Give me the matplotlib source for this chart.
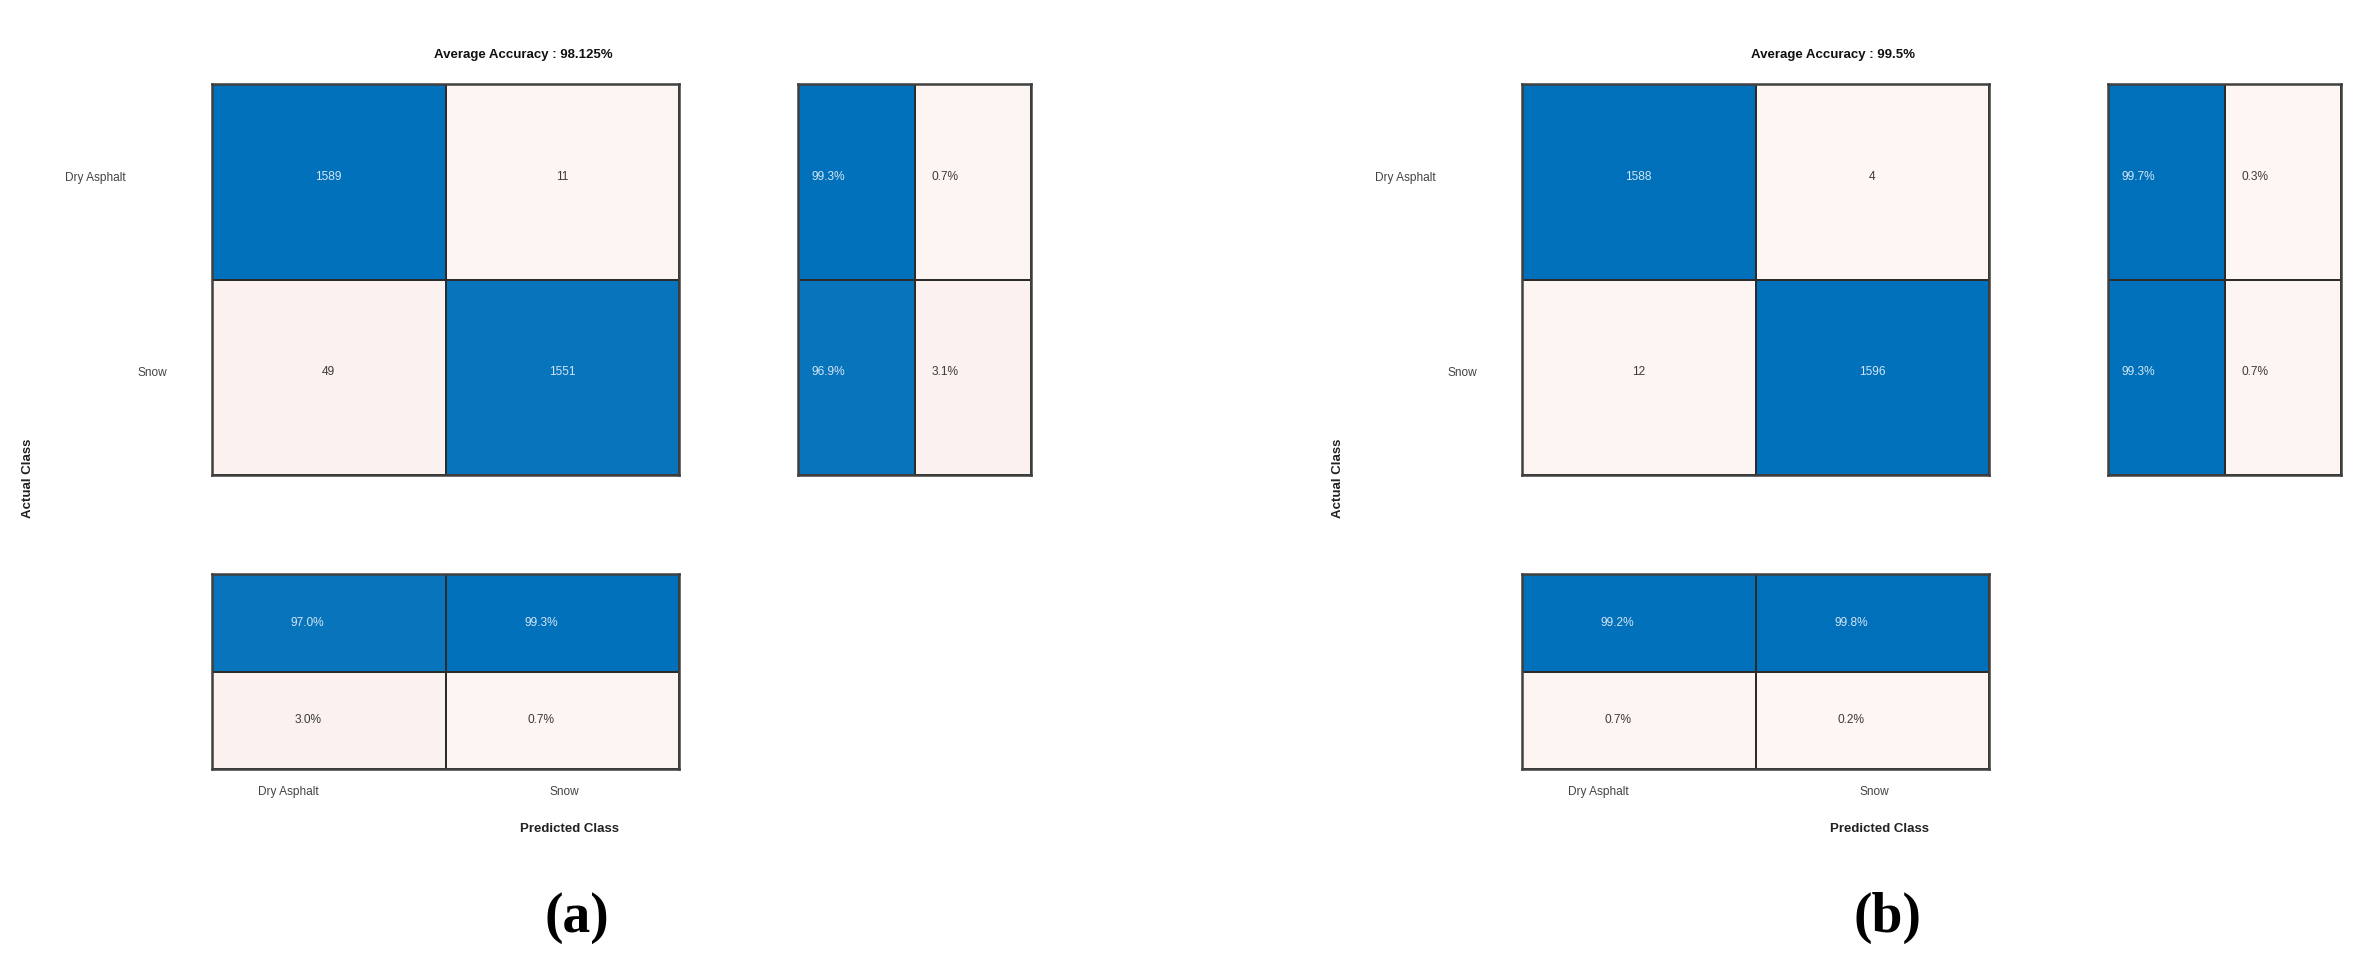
import numpy as np
import matplotlib
matplotlib.use("Agg")
import matplotlib.pyplot as plt
from matplotlib.colors import LinearSegmentedColormap


# chart data
CLASSES = ["Dry Asphalt", "Snow"]
PANELS = ["(a)", "(b)"]
TITLES = ["Average Accuracy : 98.125%", "Average Accuracy : 99.5%"]

A_COUNTS = [[1589, 11], [49, 1551]]
A_ROW_PCT = [[99.3, 0.7], [96.9, 3.1]]
A_COL_PCT = [[97.0, 99.3], [3.0, 0.7]]

B_COUNTS = [[1588, 4], [12, 1596]]
B_ROW_PCT = [[99.7, 0.3], [99.3, 0.7]]
B_COL_PCT = [[99.2, 99.8], [0.7, 0.2]]

W, H = 2378, 954
CMAP = LinearSegmentedColormap.from_list("cm", ["#fbf3ef", "#f5ede9", "#0070bb"], N=256)
CMAP = LinearSegmentedColormap.from_list("cm", [(0.0, "#fdf6f3"), (0.05, "#f9efeb"), (1.0, "#0070bb")])
LIGHT_TXT = "#d4e5f4"
DARK_TXT = "#3a3a3a"
plt.rcParams["font.family"] = ["Liberation Sans", "DejaVu Sans"]


# pixel box -> figure axes
def addBox(fig, x0, y0, x1, y1):
    return fig.add_axes([x0 / W, 1 - y1 / H, (x1 - x0) / W, (y1 - y0) / H])


def figText(fig, x, y, s, **kw):
    fig.text(x / W, 1 - y / H, s, **kw)


# draw one block of cells
def drawCells(ax, vals, colorVals, labels, dx=0.0, dy=0.0):
    vals = np.array(vals)
    colorVals = np.array(colorVals)
    ax.pcolormesh(colorVals, cmap=CMAP, vmin=0, vmax=1, edgecolors="#2b2b2b", linewidth=1.2)
    ax.set_xlim(0, vals.shape[1])
    ax.set_ylim(vals.shape[0], 0)
    for i in range(vals.shape[0]):
        for j in range(vals.shape[1]):
            c = LIGHT_TXT if colorVals[i, j] > 0.5 else DARK_TXT
            ax.text(j + 0.5 + dx, i + 0.5 + dy, labels[i][j], ha="center", va="center",
                    fontsize=8.6, color=c)
    ax.set_xticks([])
    ax.set_yticks([])
    for sp in ax.spines.values():
        sp.set_color("#404040")
        sp.set_linewidth(1.8)


def drawPanel(fig, off, counts, rowPct, colPct, title, panel):
    counts = np.array(counts, dtype=float)
    rowPct = np.array(rowPct)
    colPct = np.array(colPct)

    # main matrix
    ax = addBox(fig, 212 + off, 85, 679 + off, 476)
    frac = counts / counts.sum(axis=1, keepdims=True)
    drawCells(ax, counts, frac, [[str(int(v)) for v in r] for r in counts], dy=-0.03)

    # row summary
    ax2 = addBox(fig, 798 + off, 85, 1031 + off, 476)
    drawCells(ax2, rowPct, rowPct / 100, [[f"{v:.1f}%" for v in r] for r in rowPct], dx=-0.24, dy=-0.03)

    # column summary
    ax3 = addBox(fig, 212 + off, 575, 679 + off, 770)
    drawCells(ax3, colPct, colPct / 100, [[f"{v:.1f}%" for v in r] for r in colPct], dx=-0.09, dy=-0.01)

    figText(fig, 523 + off, 55, title, ha="center", va="center", fontsize=9.5,
            fontweight="bold", color="#111111")
    figText(fig, 126 + off, 178, CLASSES[0], ha="right", va="center", fontsize=8.6, color="#444444")
    figText(fig, 167 + off, 373, CLASSES[1], ha="right", va="center", fontsize=8.6, color="#444444")
    figText(fig, 28 + off, 478, "Actual Class", ha="center", va="center", rotation=90,
            fontsize=9.5, fontweight="bold", color="#222222")
    figText(fig, 288 + off, 792, CLASSES[0], ha="center", va="center", fontsize=8.6, color="#444444")
    figText(fig, 564 + off, 792, CLASSES[1], ha="center", va="center", fontsize=8.6, color="#444444")
    figText(fig, 569 + off, 829, "Predicted Class", ha="center", va="center", fontsize=9.5,
            fontweight="bold", color="#222222")
    figText(fig, 577 + off, 918, panel, ha="center", va="center", fontsize=40,
            fontweight="bold", family="Liberation Serif", color="black")


def main():
    fig = plt.figure(figsize=(W / 100, H / 100), dpi=100)
    drawPanel(fig, 0, A_COUNTS, A_ROW_PCT, A_COL_PCT, TITLES[0], PANELS[0])
    drawPanel(fig, 1310, B_COUNTS, B_ROW_PCT, B_COL_PCT, TITLES[1], PANELS[1])
    fig.savefig("out.png", dpi=100, facecolor="white")


if (__name__ == "__main__"):
    main()
